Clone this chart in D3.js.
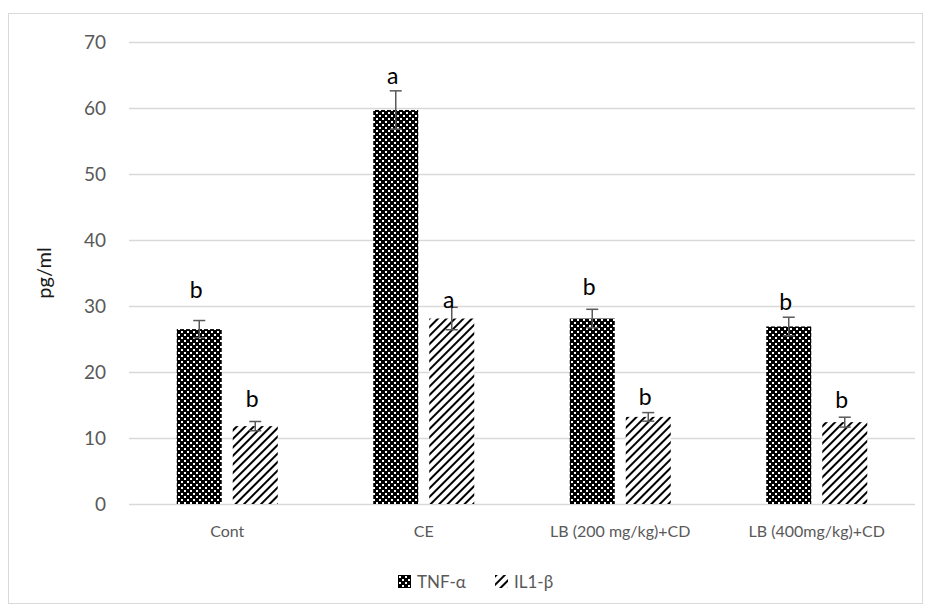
<!DOCTYPE html>
<html>
<head>
<meta charset="utf-8">
<script src="https://cdn.jsdelivr.net/npm/d3@7"></script>
<style>
  body { margin: 0; background: #fff; }
  text { font-family: Lato, "Liberation Sans", sans-serif; }
</style>
</head>
<body>
<svg id="chart" width="931" height="616"></svg>
<script>
// data
const groups = ["Cont", "CE", "LB (200 mg/kg)+CD", "LB (400mg/kg)+CD"];
const seriesNames = ["TNF-\u03b1", "IL1-\u03b2"];
const tnf = [26.5, 59.7, 28.1, 26.9];
const tnfErr = [1.3, 2.9, 1.4, 1.4];
const il1 = [11.8, 28.1, 13.2, 12.4];
const il1Err = [0.7, 1.7, 0.65, 0.75];
const tnfLetters = ["b", "a", "b", "b"];
const il1Letters = ["b", "a", "b", "b"];
// letter baseline heights (in pg/ml units), placed by hand in the original
const tnfLetterY = [31.2, 63.6, 31.7, 29.4];
const il1LetterY = [14.7, 29.7, 15.0, 14.5];
const yTicks = [0, 10, 20, 30, 40, 50, 60, 70];

const svg = d3.select("#chart");

// outer frame
svg.append("rect")
    .attr("x", 8.5).attr("y", 13.5)
    .attr("width", 914).attr("height", 590)
    .attr("fill", "none")
    .attr("stroke", "#d9d9d9");

// patterns
const defs = svg.append("defs");
const dots = defs.append("pattern")
    .attr("id", "dots")
    .attr("patternUnits", "userSpaceOnUse")
    .attr("width", 6).attr("height", 6);
dots.append("rect").attr("width", 6).attr("height", 6).attr("fill", "#000");
dots.append("rect").attr("x", 1).attr("y", 1).attr("width", 2).attr("height", 2).attr("fill", "#fff");
dots.append("rect").attr("x", 4).attr("y", 4).attr("width", 2).attr("height", 2).attr("fill", "#fff");

const stripes = defs.append("pattern")
    .attr("id", "stripes")
    .attr("patternUnits", "userSpaceOnUse")
    .attr("width", 6).attr("height", 6)
    .attr("patternTransform", "rotate(45)");
stripes.append("rect").attr("width", 6).attr("height", 6).attr("fill", "#fff");
stripes.append("rect").attr("x", 0).attr("y", 0).attr("width", 2).attr("height", 6).attr("fill", "#000");

const plotLeft = 129, plotRight = 915, plotTop = 42, plotBottom = 504;

const x = d3.scaleBand()
    .domain(groups)
    .range([plotLeft, plotRight]);

const y = d3.scaleLinear()
    .domain([0, 70])
    .range([plotBottom, plotTop]);

const barW = 45, gap = 11;
const offset = [-(barW + gap) / 2, (barW + gap) / 2];

// gridlines
svg.append("g")
    .selectAll("line")
    .data(yTicks)
    .join("line")
    .attr("x1", plotLeft).attr("x2", plotRight)
    .attr("y1", d => Math.round(y(d)) + 0.5)
    .attr("y2", d => Math.round(y(d)) + 0.5)
    .attr("stroke", "#d9d9d9")
    .attr("stroke-width", 1.3);

// y axis labels
const yAxis = svg.append("g")
    .attr("transform", "translate(" + (plotLeft - 23) + ",0)")
    .call(d3.axisLeft(y).tickValues(yTicks).tickSize(0).tickPadding(0));
yAxis.select(".domain").remove();
yAxis.selectAll("text")
    .attr("font-size", 19)
    .attr("font-family", "Lato, sans-serif")
    .attr("fill", "#595959");

// x axis labels
const xAxis = svg.append("g")
    .attr("transform", "translate(0," + plotBottom + ")")
    .call(d3.axisBottom(x).tickSize(0).tickPadding(22));
xAxis.select(".domain").remove();
xAxis.selectAll("text")
    .attr("font-size", 16)
    .attr("font-family", "Lato, sans-serif")
    .attr("fill", "#595959");

// y title
svg.append("text")
    .attr("transform", "translate(51," + ((plotTop + plotBottom) / 2) + ") rotate(-90)")
    .attr("text-anchor", "middle")
    .attr("font-size", 20)
    .attr("fill", "#1a1a1a")
    .text("pg/ml");

const series = [
    { vals: tnf, err: tnfErr, letters: tnfLetters, ly: tnfLetterY, fill: "url(#dots)" },
    { vals: il1, err: il1Err, letters: il1Letters, ly: il1LetterY, fill: "url(#stripes)" }
];

series.forEach(function (s, si) {
    const cx = (d, i) => x(groups[i]) + x.bandwidth() / 2 + offset[si];
    const g = svg.append("g");

    g.selectAll("rect")
        .data(s.vals)
        .join("rect")
        .attr("x", (d, i) => cx(d, i) - barW / 2)
        .attr("y", d => y(d))
        .attr("width", barW)
        .attr("height", d => plotBottom - y(d))
        .attr("fill", s.fill);

    // error bars
    const eb = g.selectAll("g.err")
        .data(s.vals)
        .join("g")
        .attr("class", "err");
    eb.append("line")
        .attr("x1", (d, i) => cx(d, i)).attr("x2", (d, i) => cx(d, i))
        .attr("y1", (d, i) => y(d - s.err[i]))
        .attr("y2", (d, i) => y(d + s.err[i]));
    eb.append("line")
        .attr("x1", (d, i) => cx(d, i) - 6).attr("x2", (d, i) => cx(d, i) + 6)
        .attr("y1", (d, i) => y(d + s.err[i]))
        .attr("y2", (d, i) => y(d + s.err[i]));
    eb.append("line")
        .attr("x1", (d, i) => cx(d, i) - 6).attr("x2", (d, i) => cx(d, i) + 6)
        .attr("y1", (d, i) => y(d - s.err[i]))
        .attr("y2", (d, i) => y(d - s.err[i]));
    eb.selectAll("line")
        .attr("stroke", "#595959")
        .attr("stroke-width", 1.5);

    // significance letters
    g.selectAll("text")
        .data(s.letters)
        .join("text")
        .attr("x", (d, i) => cx(d, i) - 3)
        .attr("y", (d, i) => y(s.ly[i]))
        .attr("text-anchor", "middle")
        .attr("font-size", 23)
        .attr("fill", "#000")
        .text(d => d);
});

// legend
const legend = svg.append("g").attr("transform", "translate(398,575)");
const items = legend.selectAll("g")
    .data(seriesNames)
    .join("g")
    .attr("transform", (d, i) => "translate(" + (i * 97) + ",0)");
items.append("rect")
    .attr("width", 13).attr("height", 13)
    .attr("fill", (d, i) => series[i].fill);
items.append("text")
    .attr("x", 19).attr("y", 13)
    .attr("font-size", 17)
    .attr("fill", "#595959")
    .text(d => d);
</script>
</body>
</html>
